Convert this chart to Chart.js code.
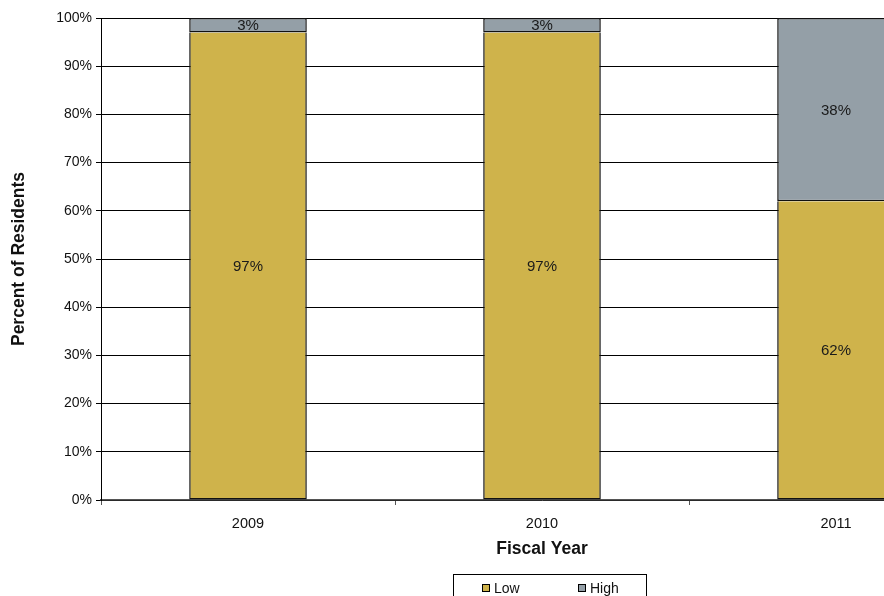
<!DOCTYPE html>
<html lang="en">
<head>
  <meta charset="UTF-8">
  <title>Percent of Residents by Fiscal Year</title>
  <script src="https://cdn.jsdelivr.net/npm/chart.js@4/dist/chart.umd.min.js"></script>
  <style>
    html, body { margin: 0; padding: 0; width: 884px; height: 596px; overflow: hidden; background: #fff; }
    #wrap { position: absolute; left: 0; top: 0; width: 983px; height: 596px; }
  </style>
</head>
<body>
  <div id="wrap"><canvas id="chart"></canvas></div>

  <script>
    // Chart data
    var years = ["2009", "2010", "2011"];
    var lowValues = [97, 97, 62];
    var highValues = [3, 3, 38];
    var seriesNames = ["Low", "High"];
    var yTicks = [0, 10, 20, 30, 40, 50, 60, 70, 80, 90, 100];

    var COLOR_LOW = "#cfb34b";
    var COLOR_HIGH = "#949fa7";
    var FONT = "Liberation Sans, Arial, Helvetica, sans-serif";

    /* Value labels centred inside each stacked segment */
    var segmentLabels = {
      id: "segmentLabels",
      afterDatasetsDraw: function(chart) {
        var ctx = chart.ctx;
        ctx.save();
        ctx.font = "15px " + FONT;
        ctx.fillStyle = "#1a1a1a";
        ctx.textAlign = "center";
        ctx.textBaseline = "middle";
        chart.data.datasets.forEach(function(ds, di) {
          var meta = chart.getDatasetMeta(di);
          meta.data.forEach(function(bar, i) {
            var p = bar.getProps(["x", "y", "base"], true);
            ctx.fillText(ds.data[i] + "%", p.x, (p.y + p.base) / 2 + 1);
          });
        });
        ctx.restore();
      }
    };

    /* Boxed legend under the axis title */
    var boxedLegend = {
      id: "boxedLegend",
      afterDraw: function(chart) {
        var ctx = chart.ctx;
        var left = 453.5, top = 574.5, right = 646.5, bottom = 620;
        ctx.save();
        ctx.strokeStyle = "#000";
        ctx.lineWidth = 1;
        ctx.strokeRect(left, top, right - left, bottom - top);
        var items = [
          { text: seriesNames[0], color: COLOR_LOW, x: 482 },
          { text: seriesNames[1], color: COLOR_HIGH, x: 578 }
        ];
        ctx.font = "14px " + FONT;
        ctx.textBaseline = "middle";
        ctx.textAlign = "left";
        items.forEach(function(it) {
          ctx.fillStyle = it.color;
          ctx.fillRect(it.x + 0.5, 584.5, 7, 7);
          ctx.strokeRect(it.x + 0.5, 584.5, 7, 7);
          ctx.fillStyle = "#111";
          ctx.fillText(it.text, it.x + 12, 589);
        });
        ctx.restore();
      }
    };

    new Chart(document.getElementById("chart"), {
      type: "bar",
      data: {
        labels: years,
        datasets: [{
          label: seriesNames[0],
          data: lowValues,
          backgroundColor: COLOR_LOW,
          borderColor: "#111",
          borderWidth: 1.5,
          borderSkipped: "end"   // the High segment above draws the shared edge
        }, {
          label: seriesNames[1],
          data: highValues,
          backgroundColor: COLOR_HIGH,
          borderColor: "#111",
          borderWidth: 1.5,
          borderSkipped: false
        }]
      },
      options: {
        responsive: true,
        maintainAspectRatio: false,
        animation: false,
        barPercentage: 0.4,
        categoryPercentage: 1.0,
        layout: { padding: { top: 18, right: 0, bottom: 36, left: 0 } },
        plugins: {
          legend: { display: false },
          tooltip: { enabled: false }
        },
        scales: {
          x: {
            stacked: true,
            afterFit: function(scale) { scale.height = 60; },
            grid: {
              offset: true,
              drawOnChartArea: false,
              drawTicks: true,
              tickLength: 5,
              color: "#555"
            },
            border: { color: "#555", width: 1.5 },
            ticks: { color: "#111", padding: 10, font: { family: FONT, size: 14.5 } },
            title: {
              display: true,
              text: "Fiscal Year",
              color: "#111",
              padding: { top: 0, bottom: 0 },
              font: { family: FONT, size: 17.5, weight: "bold" }
            }
          },
          y: {
            stacked: true,
            min: 0,
            max: 100,
            afterFit: function(scale) { scale.width = 101; },
            afterBuildTicks: function(scale) {
              scale.ticks = yTicks.map(function(v) { return { value: v }; });
            },
            grid: {
              color: "#000",
              lineWidth: 1,
              tickLength: 5
            },
            border: { color: "#000", width: 1 },
            ticks: {
              color: "#111",
              padding: 4,
              font: { family: FONT, size: 14 },
              callback: function(v) { return v + "%"; }
            },
            title: {
              display: true,
              text: "Percent of Residents",
              color: "#111",
              padding: { top: 9, bottom: 0 },
              font: { family: FONT, size: 17.5, weight: "bold" }
            }
          }
        }
      },
      plugins: [segmentLabels, boxedLegend]
    });
  </script>
</body>
</html>
